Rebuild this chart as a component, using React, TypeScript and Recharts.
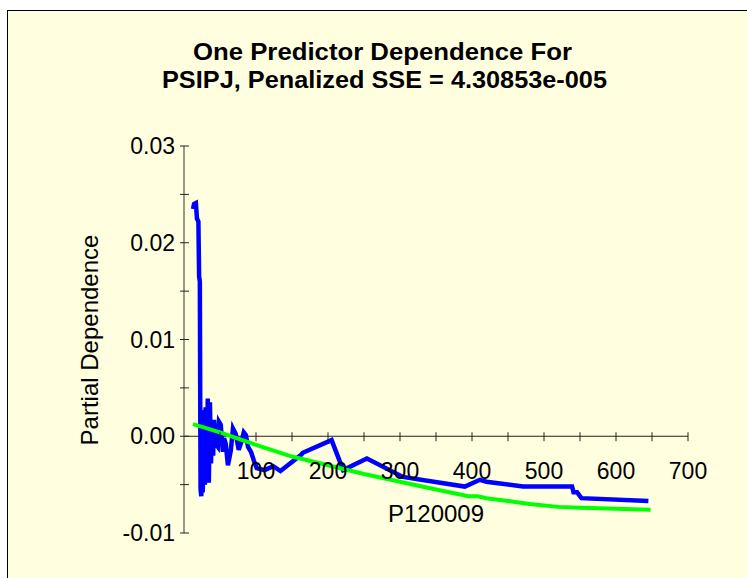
import React from "react";
import { LineChart, Line, XAxis, YAxis, ReferenceLine } from "recharts";

// blue: fitted partial dependence
const blueX = [
  12.5, 14, 16.5, 18, 20, 21, 22, 22.5, 23, 24, 25, 26, 27, 28, 29, 30, 31, 32, 33, 34.5, 36, 37.5,
  39, 40.5, 41.7, 44, 47, 48.6, 51, 54, 55.6, 58, 61, 65, 68, 72, 76, 80, 83, 86, 89, 93, 97,
  101, 112, 124, 134, 163, 165, 205, 221, 254, 304, 390, 411, 420, 471, 539, 541, 546, 552, 645,
];
const blueY = [
  0.0235, 0.024, 0.0241, 0.0225, 0.0222, 0.0165, 0.016, 0.0045, -0.0055, -0.0062, -0.003, -0.0058,
  -0.002, 0.0027, -0.005, 0.003, -0.0045, -0.004, 0.0039, -0.0048, 0.0035, -0.0028, 0.0015, -0.002,
  0.0017, -0.0008, -0.0011, 0.0015, 0.0012, -0.0016, -0.0002, -0.0008, -0.003, -0.0015, 0.0008,
  0.0002, -0.0014, -0.0005, 0.0004, 0.0001, -0.0011, -0.0016, -0.0025, -0.0033, -0.0035, -0.0031,
  -0.0036, -0.0019, -0.0017, -0.0004, -0.0035, -0.0023, -0.0042, -0.0052, -0.0045, -0.0047,
  -0.0052, -0.0052, -0.0058, -0.0058, -0.0064, -0.0067,
];

// green: smooth curve
const greenX = [12.5, 50, 100, 150, 200, 250, 300, 350, 395, 408, 420, 450, 480, 520, 550, 600, 648];
const greenY = [
  0.00125, 0.0004, -0.0009, -0.0021, -0.003, -0.0039, -0.0047, -0.0055, -0.0062, -0.0062, -0.0064,
  -0.0067, -0.007, -0.0073, -0.0074, -0.0075, -0.0076,
];

const xTicks = [50, 100, 150, 200, 250, 300, 350, 400, 450, 500, 550, 600, 650, 700];
const yTicks = [-0.01, -0.005, 0, 0.005, 0.01, 0.015, 0.02, 0.025, 0.03];

const Y_MIN = -0.01;
const Y_MAX = 0.03;
const W = 747;
const H = 578;
const MARGIN = { top: 146, right: 59, bottom: 15, left: 0 };
const X_AXIS_H = 30;
const PLOT_H = H - MARGIN.top - MARGIN.bottom - X_AXIS_H;
// distance from bottom of plot up to the zero line, where the x axis is drawn
const ZERO_OFFSET = (PLOT_H * (0 - Y_MIN)) / (Y_MAX - Y_MIN);

const FONT = "'Liberation Sans', Arial, sans-serif";

const blueData = blueX.map((x, i) => ({ x, y: blueY[i] }));
const greenData = greenX.map((x, i) => ({ x, y: greenY[i] }));

const XTick = (props: any) => {
  const { x, y, payload } = props;
  const axisY = y - ZERO_OFFSET;
  const v = payload.value;
  return (
    <g>
      <line x1={x} x2={x} y1={axisY - 4} y2={axisY + 5} stroke="#222" strokeWidth={1} />
      {v % 100 === 0 && (
        <text x={x} y={axisY + 43} textAnchor="middle" fontSize={23} fontFamily={FONT} fill="#000">
          {v}
        </text>
      )}
    </g>
  );
};

const YTick = (props: any) => {
  const { x, y, payload } = props;
  const v = payload.value;
  const major = Math.abs(Math.round(v * 100) - v * 100) < 1e-9;
  return (
    <g>
      <line x1={x - 4} x2={x + 5} y1={y} y2={y} stroke="#222" strokeWidth={1} />
      {major && (
        <text x={x - 9} y={y + 8} textAnchor="end" fontSize={23} fontFamily={FONT} fill="#000">
          {v.toFixed(2)}
        </text>
      )}
    </g>
  );
};

export default function App() {
  return (
    <div>
      <div
        style={{
          position: "absolute",
          left: 7,
          top: 10,
          width: 760,
          height: 580,
          background: "#FFFFE0",
          border: "1px solid #000",
        }}
      />
      <div style={{ position: "absolute", left: 0, top: 0 }}>
        <LineChart width={W} height={H} margin={MARGIN}>
          <XAxis
            type="number"
            dataKey="x"
            domain={[0, 700]}
            ticks={xTicks}
            interval={0}
            height={X_AXIS_H}
            axisLine={false}
            tickLine={false}
            tickSize={0}
            tickMargin={0}
            tick={<XTick />}
            allowDataOverflow
          />
          <YAxis
            type="number"
            dataKey="y"
            domain={[Y_MIN, Y_MAX]}
            ticks={yTicks}
            interval={0}
            width={184}
            axisLine={{ stroke: "#77776a", strokeWidth: 1.5 }}
            tickLine={false}
            tickSize={0}
            tickMargin={0}
            tick={<YTick />}
            allowDataOverflow
          />
          <ReferenceLine y={0} stroke="#222" strokeWidth={1} ifOverflow="extendDomain" />
          <Line
            data={blueData}
            dataKey="y"
            type="linear"
            stroke="#0000FF"
            strokeWidth={4.5}
            dot={false}
            activeDot={false}
            isAnimationActive={false}
          />
          <Line
            data={greenData}
            dataKey="y"
            type="linear"
            stroke="#00FF00"
            strokeWidth={4}
            dot={false}
            activeDot={false}
            isAnimationActive={false}
          />
        </LineChart>
      </div>
      <svg
        width={W}
        height={H}
        style={{ position: "absolute", left: 0, top: 0, pointerEvents: "none" }}
      >
        <text
          x={382.5}
          y={60}
          textAnchor="middle"
          fontSize={23}
          fontWeight="bold"
          fontFamily={FONT}
          textLength={379}
          lengthAdjust="spacingAndGlyphs"
        >
          One Predictor Dependence For
        </text>
        <text
          x={384.5}
          y={88}
          textAnchor="middle"
          fontSize={23}
          fontWeight="bold"
          fontFamily={FONT}
          textLength={445}
          lengthAdjust="spacingAndGlyphs"
        >
          PSIPJ, Penalized SSE = 4.30853e-005
        </text>
        <text x={436} y={522} textAnchor="middle" fontSize={24} fontFamily={FONT}>
          P120009
        </text>
        <text
          transform="translate(98,340) rotate(-90)"
          textAnchor="middle"
          fontSize={24}
          fontFamily={FONT}
        >
          Partial Dependence
        </text>
      </svg>
    </div>
  );
}
